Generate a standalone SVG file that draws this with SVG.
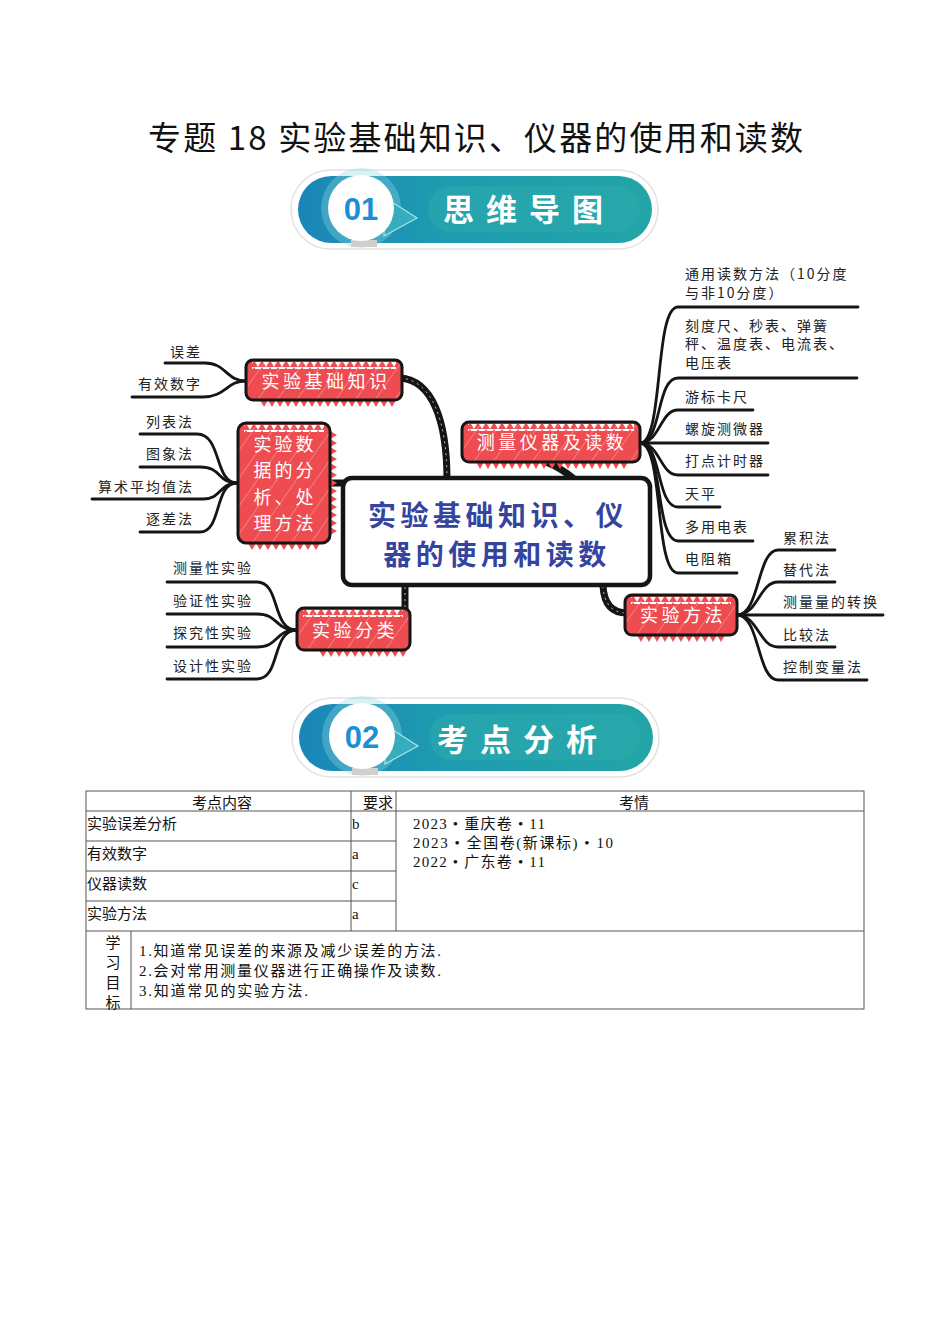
<svg xmlns="http://www.w3.org/2000/svg" width="950" height="1344" viewBox="0 0 950 1344">
<style>
.title{font-family:"Noto Sans CJK SC","Liberation Sans",sans-serif;font-size:33px;fill:#111}
.bnum{font-family:"Liberation Sans","Noto Sans CJK SC",sans-serif;font-weight:bold;font-size:31px;fill:#1d8fd6}
.btxt{font-family:"Noto Sans CJK SC",sans-serif;font-weight:bold;font-size:31px;fill:#fff;letter-spacing:12px}
.ctr{font-family:"Noto Sans CJK SC",sans-serif;font-weight:bold;font-size:28px;fill:#3444a0;letter-spacing:4.5px}
.nl{font-family:"Noto Sans CJK SC",sans-serif;font-size:18px;fill:#fff;letter-spacing:3.5px}
.leaf{font-family:"Noto Sans CJK SC",sans-serif;font-size:14px;fill:#222;letter-spacing:2px}
.lk{fill:none;stroke:#151515;stroke-width:2.8;stroke-linecap:round}
.main{fill:none;stroke:#151515;stroke-width:7;stroke-linecap:round}
.rope{fill:none;stroke:#fff;stroke-width:1;stroke-dasharray:2 4;opacity:.7}
.nb{fill:none;stroke:#151515;stroke-width:3}
.tl{stroke:#555;stroke-width:1;fill:none}
.th{font-family:"Noto Sans CJK SC",sans-serif;font-size:15px;fill:#111}
.td{font-family:"Liberation Serif","Noto Sans CJK SC",serif;font-size:15px;fill:#111}
</style>
<defs>
<linearGradient id="teal" x1="0" y1="0" x2="1" y2="0">
<stop offset="0" stop-color="#1a86b8"/><stop offset="0.4" stop-color="#1e9bb0"/><stop offset="1" stop-color="#23a5a6"/>
</linearGradient>
<pattern id="hatch" width="16" height="16" patternUnits="userSpaceOnUse" patternTransform="rotate(35)">
<rect width="16" height="16" fill="#ee4c50"/><line x1="0" y1="0" x2="0" y2="16" stroke="#fff" stroke-opacity="0.45" stroke-width="1.2"/>
</pattern>
<pattern id="zzr" width="8" height="7" patternUnits="userSpaceOnUse"><path d="M0,0H8L4,7Z" fill="#ee4c50"/></pattern>
<pattern id="zzw" width="8" height="7" patternUnits="userSpaceOnUse"><path d="M0,0H8L4,7Z" fill="#fff"/></pattern>
<pattern id="zzv" width="7" height="8" patternUnits="userSpaceOnUse"><path d="M0,0V8L7,4Z" fill="#ee4c50"/></pattern>
<g id="bannerBase">
<rect x="291" y="170" width="367" height="79" rx="39.5" fill="#fff" stroke="#e2e2e2" stroke-width="1.5"/>
<rect x="298" y="176" width="354" height="67" rx="33.5" fill="url(#teal)"/>
<rect x="428" y="186" width="212" height="46" rx="23" fill="#2cabad" opacity="0.55"/>
<circle cx="361" cy="208" r="40" fill="#8fd6e2" opacity="0.35"/>
<polygon points="384,197 417,218 384,236" fill="#35adbd" stroke="#a8e2ec" stroke-width="1.2"/>
<rect x="351" y="240" width="26" height="7" fill="#cfcfcf"/>
<circle cx="361" cy="208" r="33" fill="#fff"/>
</g>
</defs>

<rect width="950" height="1344" fill="#fff"/>

<text class="title" x="148" y="150" textLength="655" lengthAdjust="spacing">专题 18  实验基础知识、仪器的使用和读数</text>

<g id="banner1">
<use href="#bannerBase"/>
<text class="bnum" x="361" y="220" text-anchor="middle">01</text>
<text class="btxt" x="443" y="221">思维导图</text>
</g>

<g id="connectors">
<path class="main" d="M400,378 C432,380 447,420 447,480"/>
<path class="rope" d="M400,378 C432,380 447,420 447,480"/>
<path class="main" d="M546,462 C556,466 566,472 574,479"/>
<path class="main" d="M330,483 H345"/>
<path class="main" d="M405,587 V608"/>
<path class="rope" d="M405,587 V608"/>
<path class="main" d="M603,586 C604,604 612,613 627,613"/>
<path class="rope" d="M603,586 C604,604 612,613 627,613"/>
<path class="lk" d="M165,363 H205 C226,363 226,381 246,381"/>
<path class="lk" d="M132,397 H203 C226,397 226,381 246,381"/>
<path class="lk" d="M140,434 H197 C222,434 214,483 237,483"/>
<path class="lk" d="M140,467 H200 C222,467 217,483 237,483"/>
<path class="lk" d="M92,499 H203 C222,499 219,483 237,483"/>
<path class="lk" d="M140,532 H200 C222,532 214,483 237,483"/>
<path class="lk" d="M167,582 H257 C281,582 271,630 297,630"/>
<path class="lk" d="M167,614 H257 C279,614 274,630 297,630"/>
<path class="lk" d="M167,647 H257 C279,647 274,630 297,630"/>
<path class="lk" d="M167,679 H257 C281,679 271,630 297,630"/>
<path class="lk" d="M858,307 H678 C654,307 664,443 640,443"/>
<path class="lk" d="M857,378 H678 C656,378 662,443 640,443"/>
<path class="lk" d="M753,410 H678 C660,410 660,443 640,443"/>
<path class="lk" d="M768,443 H640"/>
<path class="lk" d="M768,475 H678 C660,475 660,443 640,443"/>
<path class="lk" d="M720,507 H678 C656,507 662,443 640,443"/>
<path class="lk" d="M753,541 H678 C655,541 663,443 640,443"/>
<path class="lk" d="M737,573 H678 C654,573 664,443 640,443"/>
<path class="lk" d="M835,550 H778 C757,550 760,615 737,615"/>
<path class="lk" d="M835,582 H778 C759,582 758,615 737,615"/>
<path class="lk" d="M883,615 H737"/>
<path class="lk" d="M835,647 H778 C759,647 758,615 737,615"/>
<path class="lk" d="M867,680 H778 C757,680 760,615 737,615"/>
</g>

<g id="center">
<rect x="343" y="478" width="307" height="107" rx="9" fill="#fff" stroke="#151515" stroke-width="4.5"/>
<text class="ctr" x="498" y="526" text-anchor="middle">实验基础知识、仪</text>
<text class="ctr" x="497" y="565" text-anchor="middle">器的使用和读数</text>
</g>

<g id="n-jichu" transform="translate(246,360)">
<rect width="156" height="40" rx="7" fill="url(#hatch)"/>
<rect x="6" y="2" width="144" height="7" fill="url(#zzw)"/>
<g transform="translate(14,40)"><rect width="136" height="7" fill="url(#zzr)"/></g>
<rect width="156" height="40" rx="7" class="nb"/>
<text class="nl" x="80" y="28" text-anchor="middle">实验基础知识</text>
</g>

<g id="n-shuju" transform="translate(238,423)">
<rect width="92" height="120" rx="8" fill="url(#hatch)"/>
<rect x="6" y="2" width="80" height="7" fill="url(#zzw)"/>
<g transform="translate(92,8)"><rect width="7" height="104" fill="url(#zzv)"/></g>
<g transform="translate(10,120)"><rect width="72" height="7" fill="url(#zzr)"/></g>
<rect width="92" height="120" rx="8" class="nb"/>
<text class="nl" x="47" y="28" text-anchor="middle" style="letter-spacing:3px">实验数</text>
<text class="nl" x="47" y="54" text-anchor="middle" style="letter-spacing:3px">据的分</text>
<text class="nl" x="47" y="81" text-anchor="middle" style="letter-spacing:3px">析、处</text>
<text class="nl" x="47" y="107" text-anchor="middle" style="letter-spacing:3px">理方法</text>
</g>

<g id="n-yiqi" transform="translate(462,422)">
<rect width="178" height="40" rx="7" fill="url(#hatch)"/>
<rect x="6" y="2" width="166" height="7" fill="url(#zzw)"/>
<g transform="translate(14,40)"><rect width="152" height="7" fill="url(#zzr)"/></g>
<rect width="178" height="40" rx="7" class="nb"/>
<text class="nl" x="90" y="27" text-anchor="middle">测量仪器及读数</text>
</g>

<g id="n-fenlei" transform="translate(297,608)">
<rect width="113" height="42" rx="7" fill="url(#hatch)"/>
<rect x="6" y="2" width="100" height="7" fill="url(#zzw)"/>
<g transform="translate(22,42)"><rect width="88" height="7" fill="url(#zzr)"/></g>
<rect width="113" height="42" rx="7" class="nb"/>
<text class="nl" x="58" y="29" text-anchor="middle">实验分类</text>
</g>

<g id="n-fangfa" transform="translate(625,595)">
<rect width="112" height="40" rx="7" fill="url(#hatch)"/>
<rect x="6" y="2" width="100" height="7" fill="url(#zzw)"/>
<g transform="translate(12,40)"><rect width="88" height="7" fill="url(#zzr)"/></g>
<rect width="112" height="40" rx="7" class="nb"/>
<text class="nl" x="58" y="27" text-anchor="middle">实验方法</text>
</g>

<g id="leaves-left">
<text class="leaf" x="202" y="357" text-anchor="end">误差</text>
<text class="leaf" x="202" y="389" text-anchor="end">有效数字</text>
<text class="leaf" x="194" y="427" text-anchor="end">列表法</text>
<text class="leaf" x="194" y="459" text-anchor="end">图象法</text>
<text class="leaf" x="194" y="492" text-anchor="end">算术平均值法</text>
<text class="leaf" x="194" y="524" text-anchor="end">逐差法</text>
<text class="leaf" x="173" y="573">测量性实验</text>
<text class="leaf" x="173" y="606">验证性实验</text>
<text class="leaf" x="173" y="638">探究性实验</text>
<text class="leaf" x="173" y="671">设计性实验</text>
</g>

<g id="leaves-right">
<text class="leaf" x="685" y="279">通用读数方法（10分度</text>
<text class="leaf" x="685" y="298">与非10分度）</text>
<text class="leaf" x="685" y="331">刻度尺、秒表、弹簧</text>
<text class="leaf" x="685" y="349">秤、温度表、电流表、</text>
<text class="leaf" x="685" y="368">电压表</text>
<text class="leaf" x="685" y="402">游标卡尺</text>
<text class="leaf" x="685" y="434">螺旋测微器</text>
<text class="leaf" x="685" y="466">打点计时器</text>
<text class="leaf" x="685" y="499">天平</text>
<text class="leaf" x="685" y="532">多用电表</text>
<text class="leaf" x="685" y="564">电阻箱</text>
<text class="leaf" x="783" y="543">累积法</text>
<text class="leaf" x="783" y="575">替代法</text>
<text class="leaf" x="783" y="607">测量量的转换</text>
<text class="leaf" x="783" y="640">比较法</text>
<text class="leaf" x="783" y="672">控制变量法</text>
</g>

<g id="banner2">
<use href="#bannerBase" transform="translate(1,528)"/>
<text class="bnum" x="362" y="748" text-anchor="middle">02</text>
<text class="btxt" x="437" y="751">考点分析</text>
</g>

<g id="table">
<rect class="tl" x="86" y="791" width="778" height="218"/>
<line class="tl" x1="86" y1="811" x2="864" y2="811"/>
<line class="tl" x1="86" y1="841" x2="396" y2="841"/>
<line class="tl" x1="86" y1="871" x2="396" y2="871"/>
<line class="tl" x1="86" y1="901" x2="396" y2="901"/>
<line class="tl" x1="86" y1="931" x2="864" y2="931"/>
<line class="tl" x1="351" y1="791" x2="351" y2="931"/>
<line class="tl" x1="396" y1="791" x2="396" y2="931"/>
<line class="tl" x1="131" y1="931" x2="131" y2="1009"/>
<text class="th" x="222" y="808" text-anchor="middle">考点内容</text>
<text class="th" x="378" y="808" text-anchor="middle">要求</text>
<text class="th" x="634" y="808" text-anchor="middle">考情</text>
<text class="td" x="87" y="829">实验误差分析</text>
<text class="td" x="87" y="859">有效数字</text>
<text class="td" x="87" y="889">仪器读数</text>
<text class="td" x="87" y="919">实验方法</text>
<text class="td" x="352" y="829">b</text>
<text class="td" x="352" y="859">a</text>
<text class="td" x="352" y="889">c</text>
<text class="td" x="352" y="919">a</text>
<text class="td" x="413" y="829" textLength="132" lengthAdjust="spacing">2023 • 重庆卷 • 11</text>
<text class="td" x="413" y="848" textLength="200" lengthAdjust="spacing">2023 • 全国卷(新课标) • 10</text>
<text class="td" x="413" y="867" textLength="132" lengthAdjust="spacing">2022 • 广东卷 • 11</text>
<text class="th" x="113" y="948" text-anchor="middle">学</text>
<text class="th" x="113" y="968" text-anchor="middle">习</text>
<text class="th" x="113" y="988" text-anchor="middle">目</text>
<text class="th" x="113" y="1008" text-anchor="middle">标</text>
<text class="td" x="139" y="956" textLength="302" lengthAdjust="spacing">1.知道常见误差的来源及减少误差的方法.</text>
<text class="td" x="139" y="976" textLength="302" lengthAdjust="spacing">2.会对常用测量仪器进行正确操作及读数.</text>
<text class="td" x="139" y="996" textLength="169" lengthAdjust="spacing">3.知道常见的实验方法.</text>
</g>
</svg>
